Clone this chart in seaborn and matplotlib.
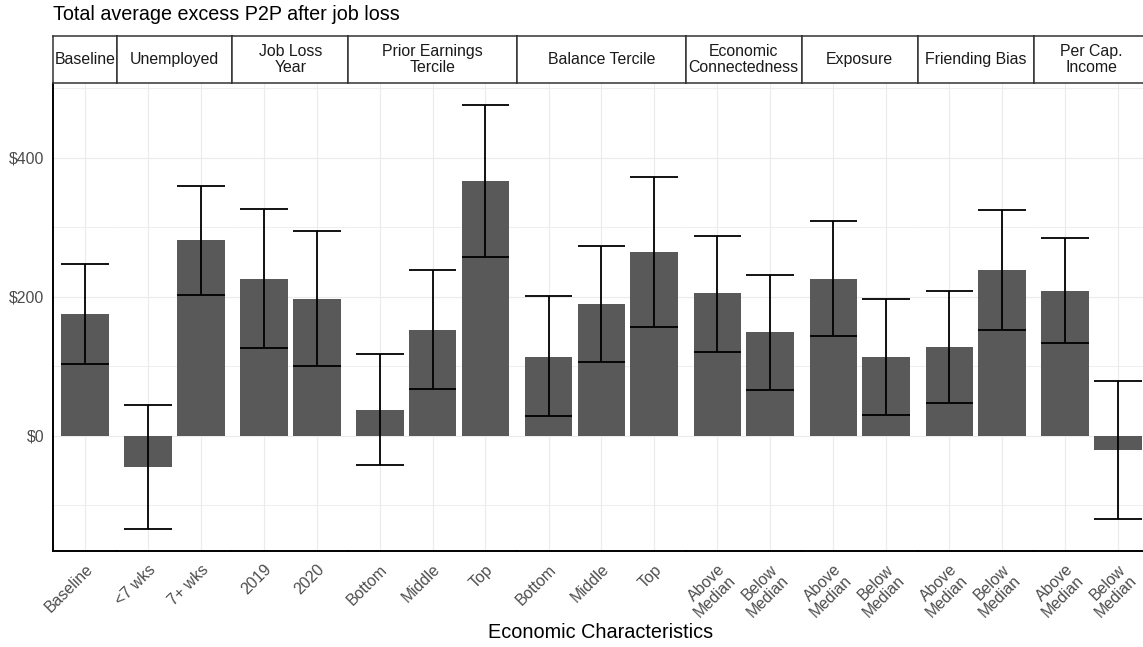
import numpy as np
import pandas as pd
import matplotlib
matplotlib.use("Agg")
import matplotlib.pyplot as plt
import seaborn as sns

# ---------------- data ----------------
facets = ["Baseline", "Unemployed", "Job Loss\nYear", "Prior Earnings\nTercile",
          "Balance Tercile", "Economic\nConnectedness", "Exposure",
          "Friending Bias", "Per Cap.\nIncome"]
facet_index = [0, 1, 1, 2, 2, 3, 3, 3, 4, 4, 4, 5, 5, 6, 6, 7, 7, 8, 8]
categories = ["Baseline", "<7 wks", "7+ wks", "2019", "2020",
              "Bottom", "Middle", "Top", "Bottom", "Middle", "Top",
              "Above\nMedian", "Below\nMedian", "Above\nMedian", "Below\nMedian",
              "Above\nMedian", "Below\nMedian", "Above\nMedian", "Below\nMedian"]
estimate = [176, -45, 281, 226, 197, 38, 153, 366, 114, 190, 265,
            205, 149, 226, 113, 128, 238, 209, -20]
ci_low = [104, -134, 202, 127, 101, -42, 68, 257, 28, 107, 157,
          121, 66, 144, 30, 48, 152, 134, -120]
ci_high = [247, 45, 359, 326, 294, 118, 238, 476, 201, 273, 373,
           288, 231, 309, 197, 209, 325, 284, 79]
y_major = [0, 200, 400]
y_major_labels = ["$0", "$200", "$400"]
y_minor = [-100, 100, 300, 500]
title = "Total average excess P2P after job loss"
xlabel = "Economic Characteristics"

df = pd.DataFrame({"facet": [facets[i] for i in facet_index],
                   "category": categories, "estimate": estimate,
                   "ci_low": ci_low, "ci_high": ci_high})

# ---------------- style ----------------
sns.set_style("white")
plt.rcParams["font.family"] = ["Liberation Sans", "DejaVu Sans"]

W, H = 1143, 647
fig = plt.figure(figsize=(W / 100, H / 100), dpi=100)

px_left, px_right = 53.3, 1149.5
panel_top, panel_bot = 83.3, 550.7
strip_top = 35.7
counts = [facet_index.count(i) for i in range(len(facets))]
units = [n - 1 + 1.2 for n in counts]
total = sum(units)

BAR = "#595959"
GRID = "#EBEBEB"
TXT = "#4D4D4D"

x = px_left
for i, f in enumerate(facets):
    w = units[i] / total * (px_right - px_left)
    ax = fig.add_axes([x / W, 1 - panel_bot / H, w / W, (panel_bot - panel_top) / H])
    sax = fig.add_axes([x / W, 1 - panel_top / H, w / W, (panel_top - strip_top) / H])
    sub = df[df.facet == f].reset_index(drop=True)
    order = list(sub.category)
    sns.barplot(data=sub, x="category", y="estimate", order=order, color=BAR,
                saturation=1, width=0.9, errorbar=None, linewidth=0, ax=ax, zorder=2)
    pos = np.arange(len(sub))
    ax.vlines(pos, sub.ci_low, sub.ci_high, color="black", lw=1.3, zorder=3)
    ax.hlines(sub.ci_low, pos - 0.45, pos + 0.45, color="black", lw=1.3, zorder=3)
    ax.hlines(sub.ci_high, pos - 0.45, pos + 0.45, color="black", lw=1.3, zorder=3)

    ax.set_xlim(-0.6, len(sub) - 0.4)
    ax.set_ylim(-165, 507)
    ax.set_yticks(y_major)
    ax.set_yticks(y_minor, minor=True)
    ax.set_axisbelow(True)
    ax.grid(which="major", axis="both", color=GRID, lw=0.8, zorder=0)
    ax.grid(which="minor", axis="y", color=GRID, lw=0.6, zorder=0)
    ax.set_xlabel("")
    ax.set_ylabel("")
    ax.set_xticks(pos)
    ax.set_xticklabels(order, rotation=45, ha="right", va="top",
                       rotation_mode="anchor", multialignment="right",
                       fontsize=11.4, color=TXT, linespacing=1.05)
    ax.tick_params(axis="x", which="major", length=4, width=1.0, color="black", pad=4)
    for s in ["top", "right"]:
        ax.spines[s].set_visible(False)
    ax.spines["bottom"].set_color("black")
    ax.spines["bottom"].set_linewidth(1.4)
    if i == 0:
        ax.spines["left"].set_color("black")
        ax.spines["left"].set_linewidth(1.4)
        ax.set_yticklabels(y_major_labels, fontsize=11.4, color=TXT)
        ax.tick_params(axis="y", which="major", length=4, width=1.0, color="black", pad=2.5)
        ax.tick_params(axis="y", which="minor", length=0)
    else:
        ax.spines["left"].set_visible(False)
        ax.tick_params(axis="y", which="both", left=False, labelleft=False)

    # strip
    sax.set_xticks([])
    sax.set_yticks([])
    sax.set_facecolor("white")
    for s in sax.spines.values():
        s.set_color("#333333")
        s.set_linewidth(1.1)
        s.set_visible(True)
    sax.text(0.5, 0.5, f, ha="center", va="center", fontsize=11.4,
             color="#1A1A1A", transform=sax.transAxes, linespacing=1.15)
    x += w

fig.text(53.3 / W, 1 - 15 / H, title, ha="left", va="center", fontsize=14.2, color="black")
fig.text(601 / W, 1 - 632 / H, xlabel, ha="center", va="center", fontsize=14.3, color="black")

fig.savefig("out.png", dpi=100)
